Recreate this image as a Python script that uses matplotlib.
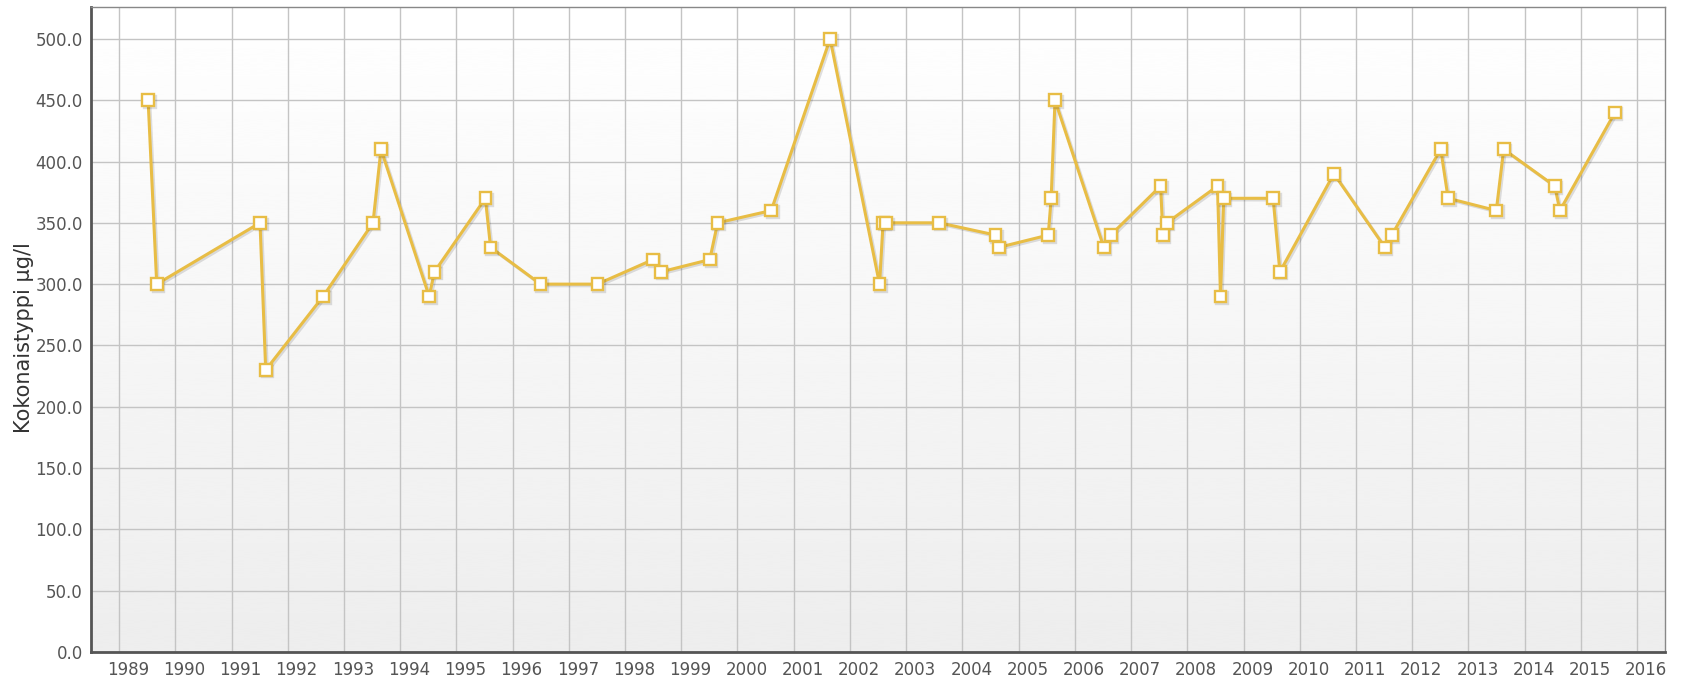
import matplotlib
matplotlib.use("Agg")
import matplotlib.pyplot as plt
import matplotlib.transforms as mtransforms
import matplotlib.patheffects as pe
import numpy as np
import pandas as pd

plt.rcParams["font.family"] = ["DejaVu Sans"]

dates = ["1989-07-08", "1989-09-02", "1991-07-05", "1991-08-11", "1992-08-18",
         "1993-07-08", "1993-08-29", "1994-07-08", "1994-08-11", "1995-07-08",
         "1995-08-11", "1996-07-01", "1997-07-05", "1998-07-01", "1998-08-22",
         "1999-07-05", "1999-08-25", "2000-08-07", "2001-08-25", "2002-07-12",
         "2002-08-04", "2002-08-25", "2003-08-04", "2004-08-04", "2004-08-25",
         "2005-07-12", "2005-07-31", "2005-08-25", "2006-07-08", "2006-08-22",
         "2007-07-12", "2007-07-27", "2007-08-22", "2008-07-16", "2008-08-04",
         "2008-08-25", "2009-07-12", "2009-08-25", "2010-08-11", "2011-07-08",
         "2011-08-22", "2012-07-05", "2012-08-22", "2013-07-01", "2013-08-18",
         "2014-07-16", "2014-08-18", "2015-08-11"]
values = [450, 300, 350, 230, 290,
          350, 410, 290, 310, 370,
          330, 300, 300, 320, 310,
          320, 350, 360, 500, 300,
          350, 350, 350, 340, 330,
          340, 370, 450, 330, 340,
          380, 340, 350, 380, 290,
          370, 370, 310, 390, 330,
          340, 410, 370, 360, 410,
          380, 360, 440]
years = list(range(1989, 2017))
y_ticks = [0, 50, 100, 150, 200, 250, 300, 350, 400, 450, 500]
y_label = "Kokonaistyppi µg/l"

x = pd.to_datetime(dates)

fig = plt.figure(figsize=(16.92, 6.78), dpi=100)
ax = fig.add_axes([91/1692, 1-652/678, (1665-91)/1692, (652-7)/678])

# gradient background
grad = np.linspace(1.0, 0.93, 256).reshape(-1, 1)
ax.imshow(grad, extent=[0, 1, 0, 1], transform=ax.transAxes, cmap="gray",
          vmin=0, vmax=1, aspect="auto", zorder=0, interpolation="bicubic")

gold = "#E8BD45"
ax.plot(x, values, color=gold, lw=2.2, marker="s", ms=8.4, mfc="white",
        mec=gold, mew=1.7, zorder=3,
        path_effects=[pe.SimpleLineShadow(offset=(1.2, -1.2), alpha=0.12), pe.Normal()])

ax.set_xlim(pd.Timestamp("1988-07-02"), pd.Timestamp("2016-07-01"))
ax.set_ylim(0, 526)
ax.set_yticks(y_ticks)
ax.set_yticklabels([f"{v:.1f}" for v in y_ticks])
ax.set_xticks([pd.Timestamp(f"{y}-01-01") for y in years])
ax.set_xticklabels([str(y) for y in years])

ax.grid(True, color="#c4c4c4", lw=1.0, zorder=1)
ax.set_axisbelow(True)
ax.tick_params(length=0, labelsize=12, colors="#555555", pad=6)
ax.tick_params(axis="x", pad=6.5)

offset = mtransforms.ScaledTranslation(9/100, 0, fig.dpi_scale_trans)
for lab in ax.get_xticklabels():
    lab.set_transform(lab.get_transform() + offset)

for s in ["left", "bottom"]:
    ax.spines[s].set_color("#555555")
    ax.spines[s].set_linewidth(2.0)
for s in ["top", "right"]:
    ax.spines[s].set_color("#888888")
    ax.spines[s].set_linewidth(1.0)

fig.text(24/1692, 1-338/678, y_label, rotation=90, ha="center", va="center",
         fontsize=15, color="#333333")

fig.savefig("out.png", dpi=100)
